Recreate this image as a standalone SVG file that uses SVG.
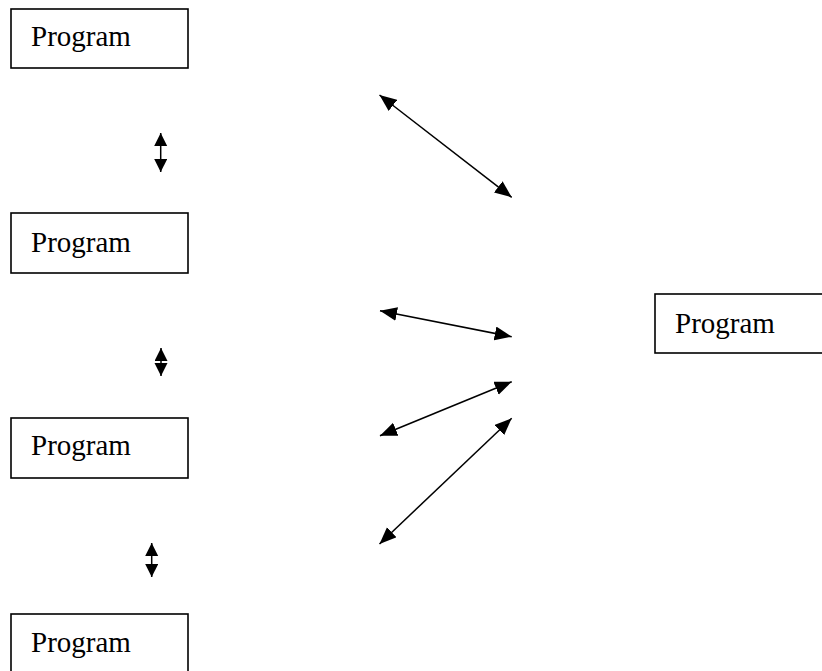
<svg xmlns="http://www.w3.org/2000/svg" width="822" height="671" viewBox="0 0 822 671">
<style>
.box{fill:#fff;stroke:#000;stroke-width:1.6}
.lbl{font-family:"Liberation Serif","Times New Roman",serif;font-size:29px;fill:#000}
.conn{stroke:#000;stroke-width:1.5;fill:none;marker-start:url(#ah);marker-end:url(#ah)}
.short{stroke:#000;stroke-width:1.5;fill:none;marker-start:url(#ahs);marker-end:url(#ahs)}
</style>
<defs>
<marker id="ah" markerUnits="userSpaceOnUse" markerWidth="18" markerHeight="15" refX="17" refY="7" orient="auto-start-reverse" viewBox="0 0 18 15">
<path d="M0,0 L17,7 L0,14 z" fill="#000"/>
</marker>
<marker id="ahs" markerUnits="userSpaceOnUse" markerWidth="14" markerHeight="14" refX="13" refY="6.5" orient="auto-start-reverse" viewBox="0 0 14 14">
<path d="M0,0 L13,6.5 L0,13 z" fill="#000"/>
</marker>
</defs>
<rect width="822" height="671" fill="#fff"/>
<g id="node1"><rect class="box" x="11" y="9" width="177" height="59"/><text class="lbl" x="31" y="46">Program</text></g>
<g id="node2"><rect class="box" x="11" y="213" width="177" height="60"/><text class="lbl" x="31" y="252">Program</text></g>
<g id="node3"><rect class="box" x="11" y="418" width="177" height="60"/><text class="lbl" x="31" y="455">Program</text></g>
<g id="node4"><rect class="box" x="11" y="614" width="177" height="70"/><text class="lbl" x="31" y="652">Program</text></g>
<g id="node5"><rect class="box" x="655" y="294" width="180" height="59"/><text class="lbl" x="675" y="333">Program</text></g>
<g id="connectors">
<line class="short" x1="160.7" y1="133" x2="160.7" y2="172"/>
<line class="short" x1="161" y1="348" x2="161" y2="376"/>
<line class="short" x1="151.7" y1="543" x2="151.7" y2="577"/>
<line class="conn" x1="379.5" y1="95" x2="511.7" y2="197.3"/>
<line class="conn" x1="380" y1="310.7" x2="511.7" y2="336.7"/>
<line class="conn" x1="380" y1="435.7" x2="511.7" y2="381.7"/>
<line class="conn" x1="379.5" y1="544" x2="511.7" y2="418.3"/>
</g>
</svg>
